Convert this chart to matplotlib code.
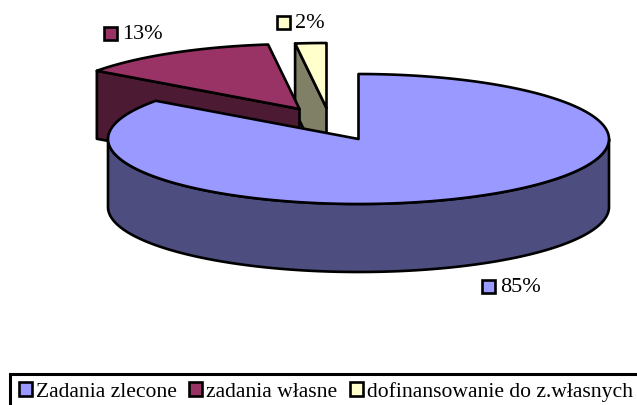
import numpy as np
import matplotlib
matplotlib.use("Agg")
import matplotlib.pyplot as plt
from matplotlib.patches import Polygon, Rectangle, Patch

categories = ["Zadania zlecone", "zadania własne", "dofinansowanie do z.własnych"]
values = [85, 13, 2]
value_labels = ["85%", "13%", "2%"]
top_colors = ["#9999FF", "#993366", "#FFFFCC"]
side_colors = ["#4D4D80", "#4D1A33", "#808066"]

# layout (pixels)
CX, CY, RX, RY, DEPTH = 358.5, 139.0, 250.5, 65.0, 68.0
offsets = [(0, 0), (-59, -30), (-32, -31)]
label_pos = [(482, 286), (104, 33), (277, 22)]
LW = 1.9

plt.rcParams["font.family"] = ["Liberation Serif", "DejaVu Serif"]
fig = plt.figure(figsize=(6.37, 4.05), dpi=100)
ax = fig.add_axes([0, 0, 1, 1])
ax.set_xlim(0, 637)
ax.set_ylim(405, 0)
ax.axis("off")


def pt(a, off=(0, 0)):
    """Point on ellipse for clockwise angle a (degrees from top)."""
    r = np.radians(a)
    return CX + off[0] + RX * np.sin(r), CY + off[1] - RY * np.cos(r)


def arc(a0, a1, off=(0, 0)):
    t = np.linspace(a0, a1, 200)
    x, y = pt(t, off)
    return np.column_stack([x, y])


def poly(p, color):
    ax.add_patch(Polygon(p, closed=True, facecolor=color, edgecolor="black",
                         lw=LW, joinstyle="round"))


edges = np.concatenate([[0], np.cumsum(values)]) * 3.6

# back to front: small slice, mid slice, main slice
for i in [2, 1, 0]:
    a0, a1 = edges[i], edges[i + 1]
    off = offsets[i]
    apex = np.array([CX + off[0], CY + off[1]])
    if i == 0:
        # outer rim, front half only
        top = arc(90, 270, off)
        poly(np.vstack([top, (top + [0, DEPTH])[::-1]]), side_colors[i])
    else:
        # cut face running from the apex to the start of the slice
        start = np.array(pt(a0, off))
        poly(np.array([start, apex, apex + [0, DEPTH], start + [0, DEPTH]]), side_colors[i])
    poly(np.vstack([[apex], arc(a0, a1, off)]), top_colors[i])

# data labels
FS_LABEL = 16.0
FS_LEGEND = 15.6
for (x, y), lab, col in zip(label_pos, value_labels, top_colors):
    ax.add_patch(Rectangle((x, y - 6.5), 13, 13, facecolor=col, edgecolor="black", lw=LW))
    ax.text(x + 18, y + 1.5, lab, fontsize=FS_LABEL, va="center", ha="left", color="black")

# legend box, cut off by the image's right and lower edges
ax.add_patch(Rectangle((10, 374), 660, 50, facecolor="white", edgecolor="black", lw=2.2))
handles = [Patch(facecolor=c, edgecolor="black", lw=LW) for c in top_colors]
leg = fig.legend(handles, categories, ncol=3, loc="upper left",
                 bbox_to_anchor=(19 / 637, 1 - 382 / 405), bbox_transform=fig.transFigure,
                 fontsize=FS_LEGEND, frameon=False, borderaxespad=0, borderpad=0,
                 handlelength=0.6, handleheight=0.6,
                 handletextpad=0.2, columnspacing=0.55)

fig.savefig("out.png", dpi=100)
